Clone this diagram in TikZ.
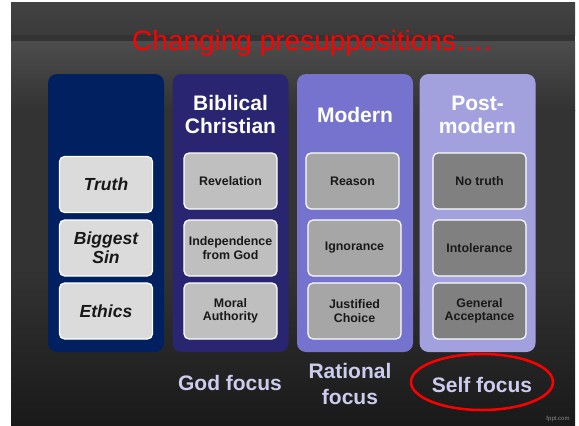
\documentclass[tikz,border=0pt]{standalone}
\usepackage{fontspec}
\setmainfont{Liberation Sans}
\definecolor{navyA}{RGB}{0,32,96}
\definecolor{navyB}{RGB}{42,37,112}
\definecolor{lilacA}{RGB}{117,115,205}
\definecolor{lilacB}{RGB}{163,161,221}
\definecolor{focusText}{RGB}{204,204,238}
\tikzset{
  column/.style={rounded corners=9pt, minimum width=116pt, minimum height=278pt, inner sep=0pt},
  cell/.style={draw=white, line width=1.2pt, rounded corners=5pt, minimum width=93pt,
               minimum height=56pt, align=center, text=black!90, inner sep=1pt,
               font=\bfseries\fontsize{12.4}{13.5}\selectfont},
  heading/.style={text=white, align=center, font=\bfseries\fontsize{21}{23}\selectfont},
  focus/.style={text=focusText, align=center, font=\bfseries\fontsize{21}{26}\selectfont}
}
\begin{document}
\begin{tikzpicture}[x=1pt, y=-1pt]
  \useasboundingbox (0,0) rectangle (579,426);
  \fill[white] (0,0) rectangle (579,426);
  % wall behind the slide
  \shade[top color=black!74, bottom color=black!77] (11,2) rectangle (575,35);
  \fill[black!80] (11,35) rectangle (575,41);
  \shade[top color=black!70, bottom color=black!80] (11,41) rectangle (575,110);
  \shade[top color=black!80, bottom color=black!90, middle color=black!80] (11,110) rectangle (575,426);
  \node[text=red, font=\fontsize{28}{30}\selectfont, anchor=base] (title) at (312,50) {Changing presuppositions….};
  \foreach \n/\x/\c in {1/106/navyA, 2/230.5/navyB, 3/355/lilacA, 4/477.5/lilacB}
    \node[column, fill=\c] (col\n) at (\x,213) {};
  \node[heading] (headB) at (230.5,114.5) {Biblical\\Christian};
  \node[heading] (headC) at (355,115) {Modern};
  \node[heading] (headD) at (477.5,114.5) {Post-\\modern};
  \foreach \j/\y/\t in {1/184.5/Truth, 2/248/{Biggest\\Sin}, 3/311/Ethics}
    \node[cell, fill=black!14, font=\bfseries\itshape\fontsize{17.5}{19}\selectfont] (cellA\j) at (106,\y) {\t};
  \foreach \j/\y/\t in {1/181/Revelation, 2/248/{Independence\\from God}, 3/311/{Moral\\Authority}}
    \node[cell, fill=black!25] (cellB\j) at (230.5,\y) {\t};
  \foreach \j/\x/\y/\t in {1/352.5/181/Reason, 2/354.5/248/Ignorance, 3/354.5/311/{Justified\\Choice}}
    \node[cell, fill=black!35] (cellC\j) at (\x,\y) {\t};
  \foreach \j/\y/\t in {1/181/No truth, 2/248/Intolerance, 3/311/{General\\Acceptance}}
    \node[cell, fill=black!50] (cellD\j) at (479.5,\y) {\t};
  \node[focus] (godFocus) at (230,383) {God focus};
  \node[focus] (ratFocus) at (350,384) {Rational\\focus};
  \node[focus] (selfFocus) at (482,385) {Self focus};
  \draw[red, line width=2.5pt] ([yshift=3pt]selfFocus.center) ellipse [x radius=71pt, y radius=28pt];
  \node[text=black!45, font=\fontsize{6}{6}\selectfont] (mark) at (558,419) {fppt.com};
\end{tikzpicture}
\end{document}
